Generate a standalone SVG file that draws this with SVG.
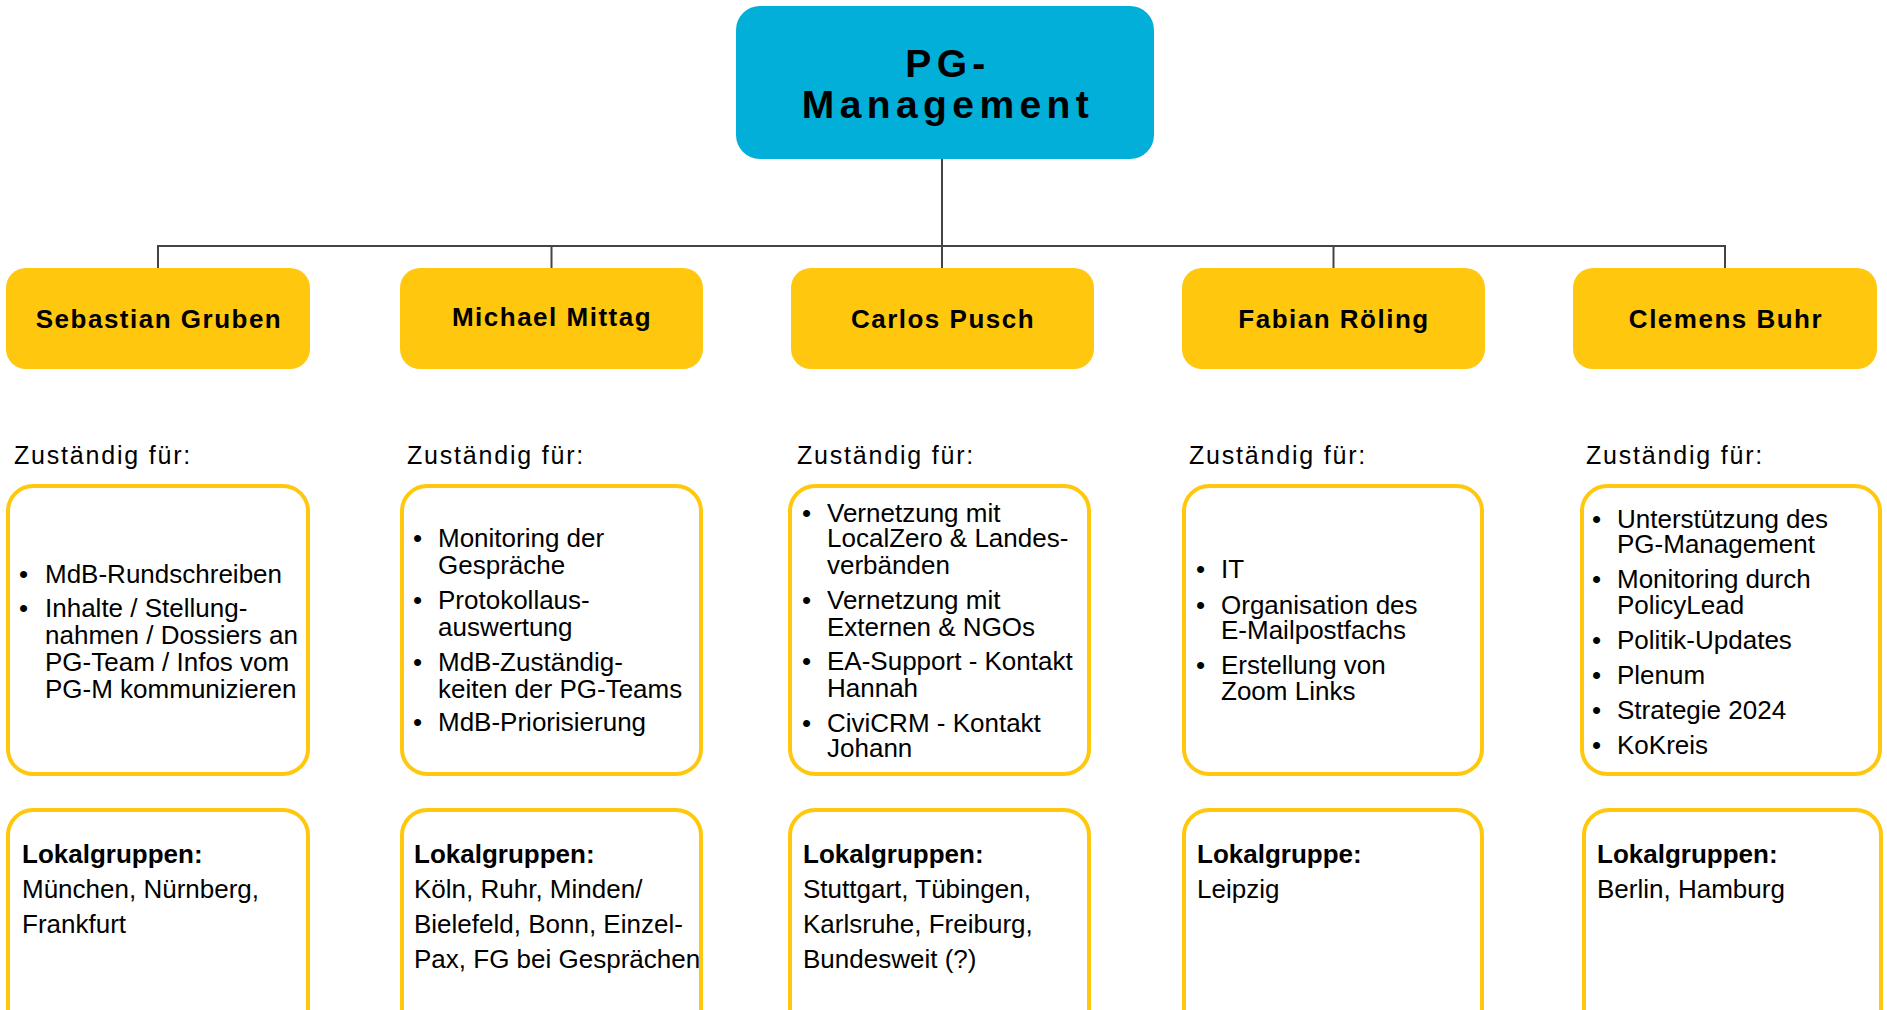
<svg xmlns="http://www.w3.org/2000/svg" width="1887" height="1010" viewBox="0 0 1887 1010">
<style>
.top{fill:#02AFD8}
.person{fill:#FFC80F}
.card{fill:#FFFFFF;stroke:#FFC80F;stroke-width:4}
.conn{stroke:#444444;stroke-width:2;fill:none}
.title{font-family:"Liberation Sans",Arial,sans-serif;font-weight:bold;font-size:39px;letter-spacing:5.4px;fill:#000;text-anchor:middle}
.name{font-family:"Liberation Sans",Arial,sans-serif;font-weight:bold;font-size:26px;letter-spacing:1.5px;fill:#000;text-anchor:middle}
.zf{font-family:"Liberation Sans",Arial,sans-serif;font-size:25px;letter-spacing:1.8px;fill:#000}
.t{font-family:"Liberation Sans",Arial,sans-serif;font-size:26px;fill:#000}
.b{font-family:"Liberation Sans",Arial,sans-serif;font-size:26px;font-weight:bold;fill:#000}
</style>

<g id="connectors">
  <line class="conn" x1="942" y1="158" x2="942" y2="268"/>
  <line class="conn" x1="158" y1="246" x2="1725" y2="246"/>
  <line class="conn" x1="158" y1="245" x2="158" y2="268"/>
  <line class="conn" x1="551.5" y1="245" x2="551.5" y2="268"/>
  <line class="conn" x1="1333.5" y1="245" x2="1333.5" y2="268"/>
  <line class="conn" x1="1725" y1="245" x2="1725" y2="268"/>
</g>

<g id="pg-management">
  <rect class="top" x="736" y="6" width="418" height="153" rx="24"/>
  <text class="title" x="948" y="77">PG-</text>
  <text class="title" x="948" y="118">Management</text>
</g>

<g id="sebastian-gruben">
  <rect class="person" x="6" y="268" width="304" height="101" rx="20"/>
  <text class="name" x="159" y="328">Sebastian Gruben</text>
</g>
<g id="michael-mittag">
  <rect class="person" x="400" y="268" width="303" height="101" rx="20"/>
  <text class="name" x="552" y="326">Michael Mittag</text>
</g>
<g id="carlos-pusch">
  <rect class="person" x="791" y="268" width="303" height="101" rx="20"/>
  <text class="name" x="943" y="328">Carlos Pusch</text>
</g>
<g id="fabian-roeling">
  <rect class="person" x="1182" y="268" width="303" height="101" rx="20"/>
  <text class="name" x="1334" y="328">Fabian Röling</text>
</g>
<g id="clemens-buhr">
  <rect class="person" x="1573" y="268" width="304" height="101" rx="20"/>
  <text class="name" x="1726" y="328">Clemens Buhr</text>
</g>

<g id="zustaendig-labels">
  <text class="zf" x="14" y="464">Zuständig für:</text>
  <text class="zf" x="407" y="464">Zuständig für:</text>
  <text class="zf" x="797" y="464">Zuständig für:</text>
  <text class="zf" x="1189" y="464">Zuständig für:</text>
  <text class="zf" x="1586" y="464">Zuständig für:</text>
</g>

<g id="tasks-sebastian">
  <rect class="card" x="8" y="486" width="300" height="288" rx="25"/>
  <text class="t" x="19" y="583">•</text><text class="t" x="45" y="583">MdB-Rundschreiben</text>
  <text class="t" x="19" y="617">•</text><text class="t" x="45" y="617">Inhalte / Stellung-</text>
  <text class="t" x="45" y="644">nahmen / Dossiers an</text>
  <text class="t" x="45" y="671">PG-Team / Infos vom</text>
  <text class="t" x="45" y="698">PG-M kommunizieren</text>
</g>
<g id="tasks-michael">
  <rect class="card" x="402" y="486" width="299" height="288" rx="25"/>
  <text class="t" x="413" y="547">•</text><text class="t" x="438" y="547">Monitoring der</text>
  <text class="t" x="438" y="574">Gespräche</text>
  <text class="t" x="413" y="609">•</text><text class="t" x="438" y="609">Protokollaus-</text>
  <text class="t" x="438" y="636">auswertung</text>
  <text class="t" x="413" y="671">•</text><text class="t" x="438" y="671">MdB-Zuständig-</text>
  <text class="t" x="438" y="698">keiten der PG-Teams</text>
  <text class="t" x="413" y="731">•</text><text class="t" x="438" y="731">MdB-Priorisierung</text>
</g>
<g id="tasks-carlos">
  <rect class="card" x="790" y="486" width="299" height="288" rx="25"/>
  <text class="t" x="802" y="522">•</text><text class="t" x="827" y="522">Vernetzung mit</text>
  <text class="t" x="827" y="547">LocalZero &amp; Landes-</text>
  <text class="t" x="827" y="574">verbänden</text>
  <text class="t" x="802" y="609">•</text><text class="t" x="827" y="609">Vernetzung mit</text>
  <text class="t" x="827" y="636">Externen &amp; NGOs</text>
  <text class="t" x="802" y="670">•</text><text class="t" x="827" y="670">EA-Support - Kontakt</text>
  <text class="t" x="827" y="697">Hannah</text>
  <text class="t" x="802" y="732">•</text><text class="t" x="827" y="732">CiviCRM - Kontakt</text>
  <text class="t" x="827" y="757">Johann</text>
</g>
<g id="tasks-fabian">
  <rect class="card" x="1184" y="486" width="298" height="288" rx="25"/>
  <text class="t" x="1196" y="578">•</text><text class="t" x="1221" y="578">IT</text>
  <text class="t" x="1196" y="614">•</text><text class="t" x="1221" y="614">Organisation des</text>
  <text class="t" x="1221" y="639">E-Mailpostfachs</text>
  <text class="t" x="1196" y="674">•</text><text class="t" x="1221" y="674">Erstellung von</text>
  <text class="t" x="1221" y="700">Zoom Links</text>
</g>
<g id="tasks-clemens">
  <rect class="card" x="1582" y="486" width="298" height="288" rx="25"/>
  <text class="t" x="1592" y="528">•</text><text class="t" x="1617" y="528">Unterstützung des</text>
  <text class="t" x="1617" y="553">PG-Management</text>
  <text class="t" x="1592" y="588">•</text><text class="t" x="1617" y="588">Monitoring durch</text>
  <text class="t" x="1617" y="614">PolicyLead</text>
  <text class="t" x="1592" y="649">•</text><text class="t" x="1617" y="649">Politik-Updates</text>
  <text class="t" x="1592" y="684">•</text><text class="t" x="1617" y="684">Plenum</text>
  <text class="t" x="1592" y="719">•</text><text class="t" x="1617" y="719">Strategie 2024</text>
  <text class="t" x="1592" y="754">•</text><text class="t" x="1617" y="754">KoKreis</text>
</g>

<g id="groups-sebastian">
  <rect class="card" x="8" y="810" width="300" height="240" rx="25"/>
  <text class="b" x="22" y="863">Lokalgruppen:</text>
  <text class="t" x="22" y="898">München, Nürnberg,</text>
  <text class="t" x="22" y="933">Frankfurt</text>
</g>
<g id="groups-michael">
  <rect class="card" x="402" y="810" width="299" height="240" rx="25"/>
  <text class="b" x="414" y="863">Lokalgruppen:</text>
  <text class="t" x="414" y="898">Köln, Ruhr, Minden/</text>
  <text class="t" x="414" y="933">Bielefeld, Bonn, Einzel-</text>
  <text class="t" x="414" y="968">Pax, FG bei Gesprächen</text>
</g>
<g id="groups-carlos">
  <rect class="card" x="790" y="810" width="299" height="240" rx="25"/>
  <text class="b" x="803" y="863">Lokalgruppen:</text>
  <text class="t" x="803" y="898">Stuttgart, Tübingen,</text>
  <text class="t" x="803" y="933">Karlsruhe, Freiburg,</text>
  <text class="t" x="803" y="968">Bundesweit (?)</text>
</g>
<g id="groups-fabian">
  <rect class="card" x="1184" y="810" width="298" height="240" rx="25"/>
  <text class="b" x="1197" y="863">Lokalgruppe:</text>
  <text class="t" x="1197" y="898">Leipzig</text>
</g>
<g id="groups-clemens">
  <rect class="card" x="1584" y="810" width="297" height="240" rx="25"/>
  <text class="b" x="1597" y="863">Lokalgruppen:</text>
  <text class="t" x="1597" y="898">Berlin, Hamburg</text>
</g>
</svg>
